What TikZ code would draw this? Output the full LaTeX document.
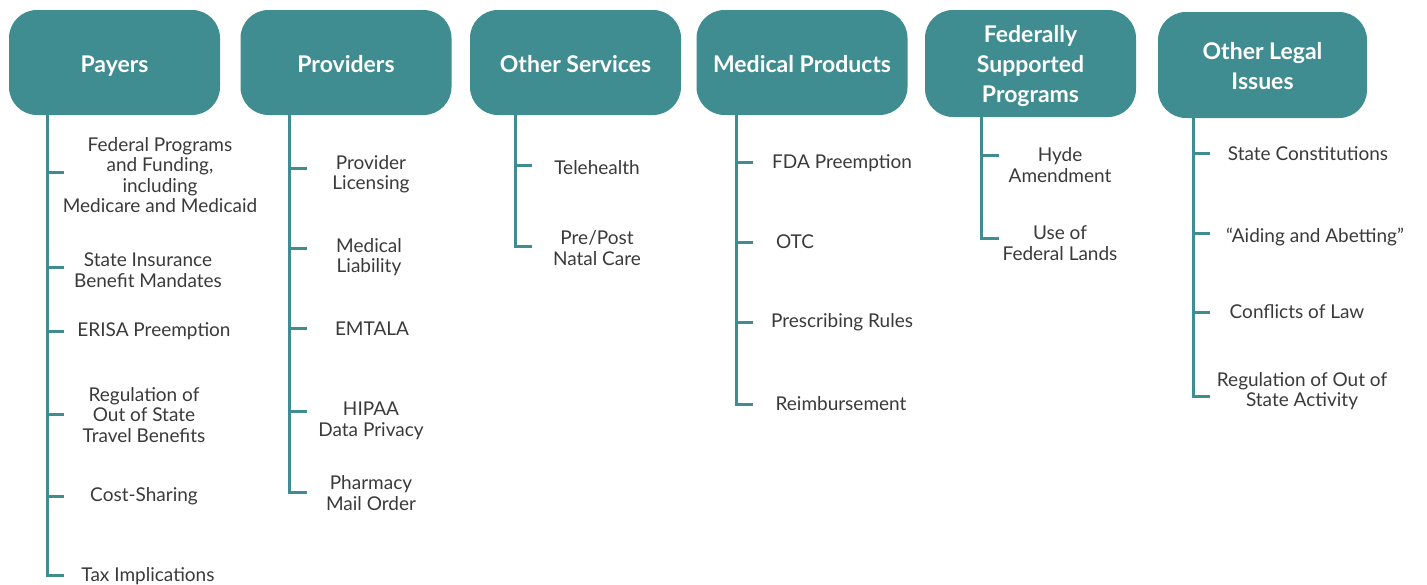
\documentclass[tikz,border=0pt]{standalone}
\usepackage{fontspec}
\setmainfont{Lato}
\definecolor{teal}{HTML}{3F8C91}
\definecolor{ink}{HTML}{3A3A3A}
\begin{document}
\begin{tikzpicture}[x=1pt,y=-1pt,
  headbox/.style={fill=teal, rounded corners=28pt, minimum width=211pt,
    minimum height=105pt, inner sep=0pt},
  headtext/.style={inner sep=0pt, align=center, text=white,
    font=\fontsize{23}{30}\selectfont\bfseries},
  header/.style={headbox, headtext},
  oneline/.style={text height=20pt, text depth=0pt},
  item/.style={inner sep=0pt, align=center, text=ink,
    font=\fontsize{19}{20.5}\selectfont},
  spine/.style={draw=teal, line width=3pt, line join=miter}]
\useasboundingbox (0,0) rectangle (1427,584);

% ---- Payers
\node[header, oneline] (pay) at (114.5,62.5) {Payers};
\node[item] (pay1) at (160,175) {Federal Programs\\and Funding,\\including\\Medicare and Medicaid};
\node[item] (pay2) at (148,270) {State Insurance\\Benefit Mandates};
\node[item] (pay3) at (154,331) {ERISA Preemption};
\node[item] (pay4) at (144,415) {Regulation of\\Out of State\\Travel Benefits};
\node[item] (pay5) at (144,496) {Cost-Sharing};
\node[item] (pay6) at (148,576) {Tax Implications};
\foreach \i/\y in {1/172,2/267,3/331,4/414,5/496,6/575}
  \coordinate (payt\i) at (64,\y);
\draw[spine] (pay.south -| 47,0) |- (payt6);
\foreach \i in {1,...,5} \draw[spine] (payt\i -| 47,0) -- (payt\i);

% ---- Providers
\node[header, oneline] (pro) at (346,62.5) {Providers};
\node[item] (pro1) at (371,174) {Provider\\Licensing};
\node[item] (pro2) at (369,257) {Medical\\Liability};
\node[item] (pro3) at (372,329) {EMTALA};
\node[item] (pro4) at (371,421) {HIPAA\\Data Privacy};
\node[item] (pro5) at (371,493) {Pharmacy\\Mail Order};
\foreach \i/\y in {1/168,2/248,3/328,4/411,5/492}
  \coordinate (prot\i) at (307,\y);
\draw[spine] (pro.south -| 289,0) |- (prot5);
\foreach \i in {1,...,4} \draw[spine] (prot\i -| 289,0) -- (prot\i);

% ---- Other Services
\node[header, oneline] (oth) at (575.5,62.5) {Other Services};
\node[item] (oth1) at (597,168) {Telehealth};
\node[item] (oth2) at (597,248) {Pre/Post\\Natal Care};
\foreach \i/\y in {1/165,2/246}
  \coordinate (otht\i) at (532,\y);
\draw[spine] (oth.south -| 515,0) |- (otht2);
\draw[spine] (otht1 -| 515,0) -- (otht1);

% ---- Medical Products
\node[header, oneline] (med) at (802,62.5) {Medical Products};
\node[item] (med1) at (842,163) {FDA Preemption};
\node[item] (med2) at (795,242) {OTC};
\node[item] (med3) at (842,322) {Prescribing Rules};
\node[item] (med4) at (841,404) {Reimbursement};
\foreach \i/\y in {1/162,2/242,3/322,4/404}
  \coordinate (medt\i) at (753,\y);
\draw[spine] (med.south -| 736,0) |- (medt4);
\foreach \i in {1,...,3} \draw[spine] (medt\i -| 736,0) -- (medt\i);

% ---- Federally Supported Programs
\node[headbox, minimum height=107pt,
  label={[headtext, yshift=-3pt]center:Federally\\Supported\\Programs}]
  (fed) at (1030.5,63.5) {};
\node[item] (fed1) at (1060,165) {Hyde\\Amendment};
\node[item] (fed2) at (1060,243) {Use of\\Federal Lands};
\foreach \i/\y in {1/155,2/238}
  \coordinate (fedt\i) at (999,\y);
\draw[spine] (fed.south -| 981,0) |- (fedt2);
\draw[spine] (fedt1 -| 981,0) -- (fedt1);

% ---- Other Legal Issues
\node[headbox, minimum width=209pt, minimum height=106pt,
  label={[headtext, yshift=-1pt]center:Other Legal\\Issues}]
  (leg) at (1262.5,65) {};
\node[item] (leg1) at (1308,154) {State Constitutions};
\node[item] (leg2) at (1315,237) {“Aiding and Abetting”};
\node[item] (leg3) at (1297,312) {Conflicts of Law};
\node[item] (leg4) at (1302,391) {Regulation of Out of\\State Activity};
\foreach \i/\y in {1/153,2/233,3/312,4/396}
  \coordinate (legt\i) at (1210,\y);
\draw[spine] (leg.south -| 1193,0) |- (legt4);
\foreach \i in {1,...,3} \draw[spine] (legt\i -| 1193,0) -- (legt\i);
\end{tikzpicture}
\end{document}
